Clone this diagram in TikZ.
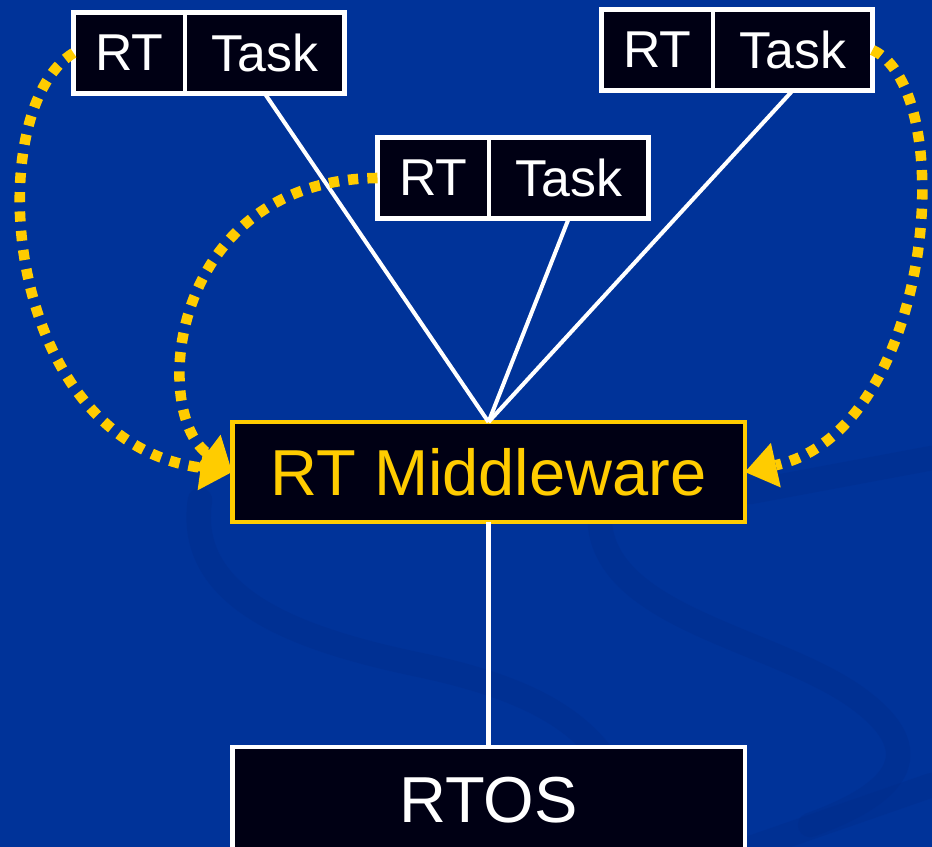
\documentclass[tikz,border=0pt]{standalone}
\usepackage{fontspec}
\setmainfont{Liberation Sans}
\usetikzlibrary{arrows.meta}
\definecolor{slideblue}{RGB}{0,51,153}
\definecolor{swirlblue}{RGB}{0,44,138}
\definecolor{boxblack}{RGB}{0,0,20}
\definecolor{rtyellow}{RGB}{255,204,0}

\tikzset{
  cell/.style={draw=white, line width=2.8pt, fill=boxblack, text=white, outer sep=0pt,
    inner sep=0pt, minimum height=1.62cm, font=\fontsize{29.5}{31}\selectfont},
  rtcell/.style={cell, minimum width=2.23cm},
  taskcell/.style={cell, minimum width=3.19cm},
  layer/.style={draw=#1, line width=2.8pt, fill=boxblack, text=#1, outer sep=0pt,
    inner sep=0pt, minimum width=10.26cm, font=\fontsize{37}{40}\selectfont},
  link/.style={draw=white, line width=2.3pt},
  call/.style={draw=rtyellow, line width=6pt, dash pattern=on 5.8pt off 5.2pt,
    -{Triangle[length=18pt, width=26pt, line width=0pt, fill=rtyellow]}},
  swirl/.style={draw=swirlblue, line width=14pt, line cap=round, opacity=0.35}
}

\begin{document}
\begin{tikzpicture}[x=0.02cm, y=-0.02cm]
% slide background
\clip (0,0) rectangle (932,847);
\fill[slideblue] (0,0) rectangle (932,847);
\draw[swirl] (200,500) .. controls (185,600) and (300,640) .. (420,665)
  .. controls (560,695) and (620,740) .. (640,847);
\draw[swirl] (600,525) .. controls (610,620) and (780,640) .. (860,700)
  .. controls (940,760) and (880,800) .. (810,825);
\draw[swirl] (745,850) -- (932,785);
\draw[swirl] (750,492) -- (932,458);

% tasks
\node[rtcell, anchor=north west] (rt1) at (73.5,12.5) {RT};
\node[taskcell, anchor=west] (task1) at (rt1.east) {Task};
\node[rtcell, anchor=north west] (rt2) at (601.5,9.5) {RT};
\node[taskcell, anchor=west] (task2) at (rt2.east) {Task};
\node[rtcell, anchor=north west] (rt3) at (377.5,137.5) {RT};
\node[taskcell, anchor=west] (task3) at (rt3.east) {Task};

% layers
\node[layer=rtyellow, minimum height=2cm] (mw) at (488.5,472) {RT Middleware};
\node[layer=white, minimum height=2.12cm] (rtos) at (488.5,800) {RTOS};

\draw[link] (task1.south) -- (mw.north);
\draw[link] (task3.south) -- (mw.north);
\draw[link] (task2.south) -- (mw.north);
\draw[link] (mw.south) -- (rtos.north);

% real-time calls
\draw[call] (rt1.west) .. controls (-20,110) and (0,440) .. (mw.west);
\draw[call] (rt3.west) .. controls (170,180) and (150,410) .. (mw.west);
\draw[call] (task2.east) .. controls (960,90) and (935,430) .. (mw.east);
\end{tikzpicture}
\end{document}
